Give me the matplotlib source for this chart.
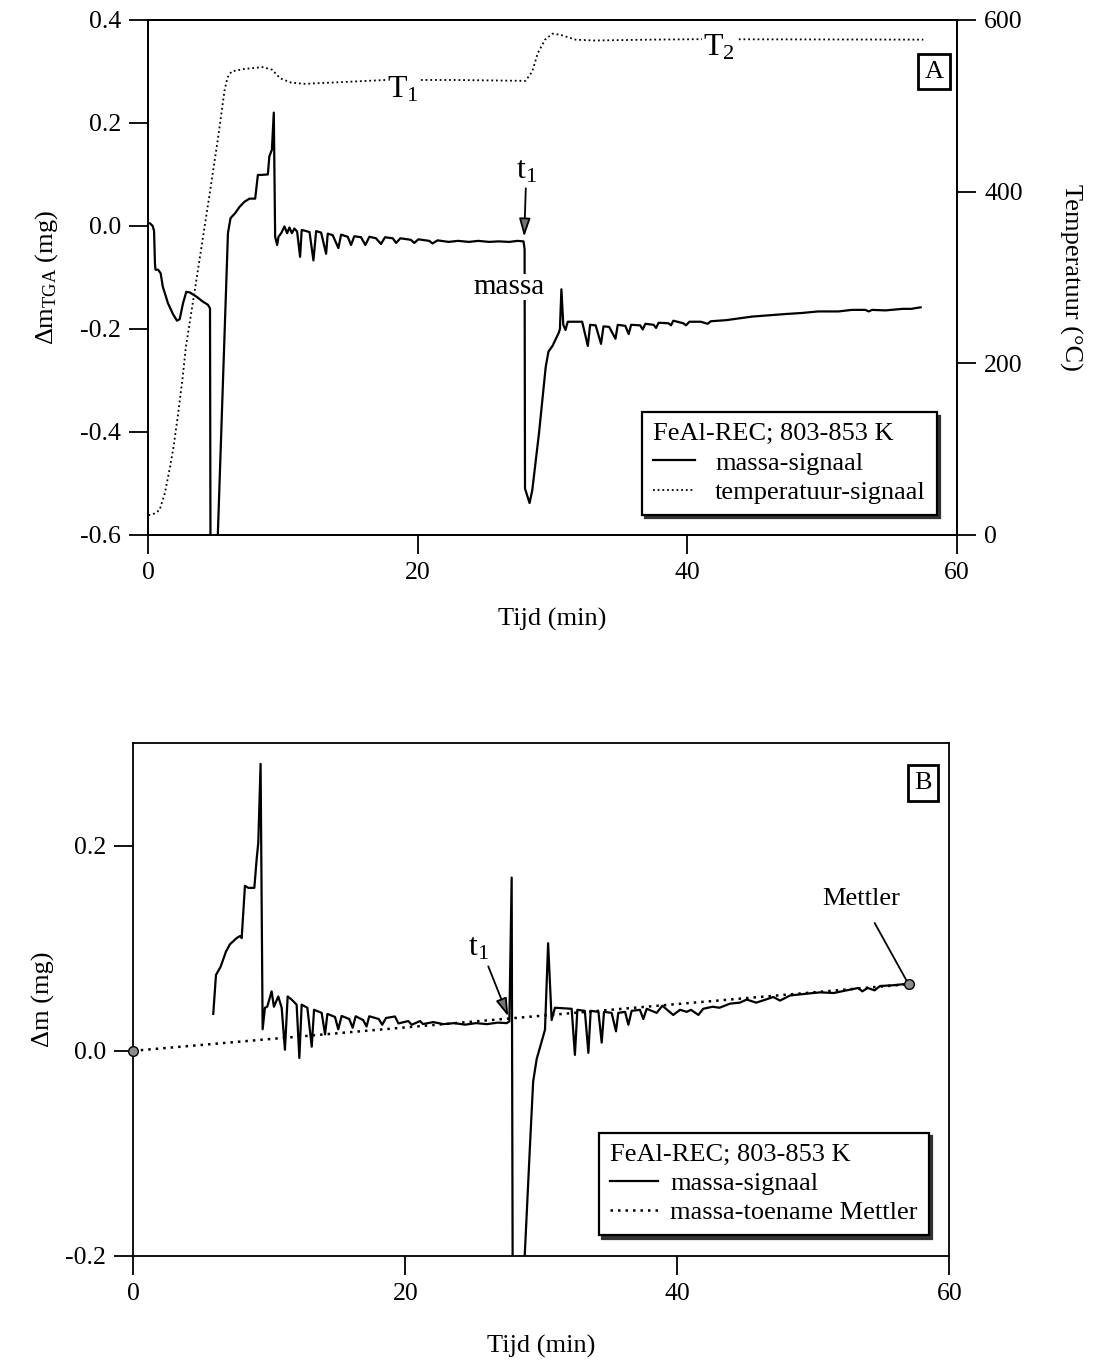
import matplotlib
matplotlib.use('Agg')
import matplotlib.pyplot as plt

plt.rcParams['font.family'] = 'serif'
plt.rcParams['font.serif'] = ['Liberation Serif', 'DejaVu Serif']
plt.rcParams['mathtext.fontset'] = 'custom'
plt.rcParams['mathtext.rm'] = 'Liberation Serif'
plt.rcParams['mathtext.it'] = 'Liberation Serif:italic'

# TGA mass signal (min, mg), panel A
tga_t = [0.15, 0.35, 0.45, 0.52, 0.56, 0.75, 0.94, 1.10, 1.48, 1.85, 2.15, 2.35, 2.60, 2.84,
         3.09, 3.58, 4.07, 4.44, 4.60, 4.64, 5.05, 5.93, 6.12, 6.47, 6.79, 7.16, 7.53, 7.95,
         8.15, 8.40, 8.89, 9.00, 9.19, 9.33, 9.43, 9.58, 9.68, 9.88, 10.12, 10.32, 10.49,
         10.67, 10.86, 11.06, 11.28, 11.40, 11.60, 11.98, 12.27, 12.47, 12.84, 13.21, 13.33,
         13.70, 14.12, 14.32, 14.81, 15.06, 15.30, 15.80, 16.12, 16.42, 16.91, 17.28, 17.58,
         18.15, 18.40, 18.72, 19.50, 19.75, 20.05, 20.86, 21.10, 21.48, 22.3, 23.0, 23.8,
         24.5, 25.3, 26.0, 26.8, 27.4, 27.85, 27.93, 27.96, 28.30, 28.50, 29.00, 29.50, 29.70,
         30.00, 30.47, 30.55, 30.66, 30.80, 30.96, 31.13, 32.20, 32.62, 32.79, 33.20, 33.60,
         33.78, 34.20, 34.67, 34.84, 35.40, 35.65, 35.83, 36.50, 36.69, 36.89, 37.50, 37.68,
         37.87, 38.60, 38.79, 38.96, 39.70, 39.90, 40.15, 41.00, 41.50, 41.75, 42.86, 44.80,
         47.30, 48.50, 49.70, 51.20, 52.20, 53.20, 53.45, 53.70, 54.70, 55.95, 56.60, 57.30]
tga_m = [0.005, 0.000, -0.010, -0.075, -0.085, -0.085, -0.092, -0.118, -0.150, -0.171,
         -0.184, -0.181, -0.150, -0.128, -0.129, -0.137, -0.147, -0.153, -0.160, -0.700,
         -0.700, -0.014, 0.015, 0.025, 0.037, 0.047, 0.053, 0.053, 0.099, 0.099, 0.100,
         0.135, 0.148, 0.220, -0.021, -0.037, -0.021, -0.014, -0.001, -0.014, -0.003, -0.014,
         -0.005, -0.011, -0.060, -0.008, -0.009, -0.012, -0.067, -0.010, -0.013, -0.054,
         -0.015, -0.018, -0.043, -0.017, -0.021, -0.037, -0.020, -0.022, -0.037, -0.021,
         -0.024, -0.035, -0.022, -0.024, -0.033, -0.024, -0.027, -0.033, -0.026, -0.029,
         -0.034, -0.028, -0.031, -0.029, -0.031, -0.029, -0.031, -0.030, -0.031, -0.029,
         -0.030, -0.045, -0.510, -0.538, -0.513, -0.402, -0.273, -0.244, -0.233, -0.207,
         -0.200, -0.123, -0.192, -0.202, -0.186, -0.186, -0.233, -0.192, -0.193, -0.229,
         -0.195, -0.196, -0.219, -0.192, -0.194, -0.210, -0.192, -0.193, -0.201, -0.190,
         -0.192, -0.198, -0.188, -0.189, -0.193, -0.184, -0.189, -0.193, -0.186, -0.186,
         -0.190, -0.185, -0.183, -0.176, -0.171, -0.169, -0.166, -0.166, -0.163, -0.163,
         -0.166, -0.163, -0.164, -0.161, -0.161, -0.158]

# oven temperature (min, degC), panel A
temp_t = [0.04, 0.47, 0.86, 1.25, 1.64, 1.90, 2.24, 2.55, 2.81, 3.20, 3.59, 4.60, 5.20, 5.68,
          5.90, 6.20, 7.20, 8.50, 9.20, 9.80, 10.60, 11.60, 15.0, 17.6, 22.8, 28.0, 28.5,
          28.9, 29.45, 30.0, 30.6, 31.7, 33.1, 37.3, 40.7, 57.5]
temp_T = [23, 25, 29, 48.6, 79.6, 103, 142, 180.6, 219, 258, 297, 400, 463, 518, 533, 540,
          543, 545, 542, 532, 527, 525.5, 528, 530, 530, 529, 540, 561, 577, 584, 582.6, 577,
          576, 577, 577.5, 577]

# corrected mass signal (min, mg), panel B
corr_t = [5.88, 6.08, 6.42, 6.82, 7.11, 7.60, 7.85, 7.97, 8.21, 8.46, 8.90, 9.07, 9.19, 9.36,
          9.51, 9.68, 9.85, 10.17, 10.34, 10.66, 10.91, 11.15, 11.35, 11.64, 12.01, 12.21,
          12.38, 12.80, 13.12, 13.29, 13.85, 14.10, 14.27, 14.83, 15.07, 15.32, 15.88, 16.13,
          16.35, 16.90, 17.15, 17.35, 18.05, 18.30, 18.58, 19.24, 19.49, 20.22, 20.47, 21.08,
          21.30, 22.06, 22.8, 23.6, 24.4, 25.2, 26.0, 26.8, 27.45, 27.65, 27.82, 27.90, 28.70,
          28.78, 29.15, 29.40, 29.66, 30.27, 30.50, 30.76, 31.00, 32.23, 32.47, 32.65, 33.20,
          33.46, 33.63, 34.20, 34.44, 34.61, 35.17, 35.49, 35.66, 36.16, 36.40, 36.64, 37.25,
          37.50, 37.75, 38.48, 38.90, 39.34, 39.70, 40.20, 40.70, 41.00, 41.55, 41.90, 42.60,
          43.10, 43.87, 44.60, 45.10, 45.80, 46.50, 47.06, 47.55, 48.30, 49.00, 50.00, 50.50,
          51.50, 53.30, 53.60, 54.00, 54.50, 54.90, 55.90, 57.00]
corr_m = [0.036, 0.074, 0.082, 0.097, 0.104, 0.110, 0.112, 0.110, 0.161, 0.159, 0.159, 0.187,
          0.203, 0.280, 0.021, 0.042, 0.043, 0.058, 0.043, 0.053, 0.042, 0.001, 0.053, 0.050,
          0.045, -0.007, 0.045, 0.042, 0.004, 0.040, 0.037, 0.016, 0.036, 0.033, 0.021, 0.034,
          0.031, 0.0225, 0.0337, 0.030, 0.0237, 0.0337, 0.031, 0.0254, 0.032, 0.0335, 0.0267,
          0.029, 0.0254, 0.029, 0.0261, 0.028, 0.026, 0.027, 0.0255, 0.027, 0.026, 0.0275,
          0.027, 0.0286, 0.169, -0.250, -0.250, -0.200, -0.097, -0.030, -0.008, 0.0205, 0.105,
          0.030, 0.042, 0.041, -0.004, 0.040, 0.039, -0.002, 0.039, 0.038, 0.008, 0.038, 0.037,
          0.019, 0.037, 0.038, 0.0254, 0.039, 0.040, 0.031, 0.041, 0.037, 0.044, 0.039, 0.035,
          0.040, 0.038, 0.040, 0.035, 0.041, 0.043, 0.042, 0.046, 0.047, 0.050, 0.047, 0.050,
          0.0525, 0.049, 0.054, 0.055, 0.0564, 0.057, 0.0564, 0.0613, 0.058, 0.0613, 0.059,
          0.0632, 0.064, 0.0655]

# Mettler balance: start and end mass
mettler_t = [0.0, 57.0]
mettler_m = [0.0, 0.065]

x_ticks = [0, 20, 40, 60]
fs = 19
tick_kw = dict(direction='out', length=13.5, width=1.3, labelsize=18.5, pad=6)
legend_kw = dict(alignment='left', fontsize=fs, title_fontsize=fs, loc='lower right',
                 borderaxespad=0, labelspacing=0.22, borderpad=0.42, fancybox=False,
                 framealpha=1, edgecolor='black',
                 shadow={'ox': 2.5, 'oy': -2.5, 'color': '0.2', 'alpha': 1})
arrow_kw = dict(arrowstyle='-|>,head_length=0.55,head_width=0.17', mutation_scale=20,
                lw=1.3, color='black', fc='0.45', shrinkA=0, shrinkB=0)

fig = plt.figure(figsize=(10.97, 13.63), dpi=100)

# ---------------- panel A ----------------
ax1 = fig.add_axes([0.1349, 0.6075, 0.7375, 0.3779])
ax2 = ax1.twinx()

l_mass, = ax1.plot(tga_t, tga_m, color='black', lw=1.6)
l_temp, = ax2.plot(temp_t, temp_T, color='black', lw=1.3, ls=(0, (1, 1.6)))

ax1.set_xlim(0, 60)
ax1.set_ylim(-0.6, 0.4)
ax2.set_ylim(0, 600)
ax1.set_xticks(x_ticks)
ax1.set_yticks([-0.6, -0.4, -0.2, 0.0, 0.2, 0.4])
ax1.set_yticklabels(['-0.6', '-0.4', '-0.2', '0.0', '0.2', '0.4'])
ax2.set_yticks([0, 200, 400, 600])
ax1.tick_params(**tick_kw)
ax2.tick_params(**tick_kw)
for ax in (ax1, ax2):
    for sp in ax.spines.values():
        sp.set_linewidth(1.3)

ax1.set_xlabel('Tijd (min)', fontsize=fs)
ax1.xaxis.set_label_coords(0.5, -0.142)
ax1.set_ylabel(r'Δm$_{\mathrm{TGA}}$ (mg)', fontsize=fs)
ax1.yaxis.set_label_coords(-0.109, 0.5)
ax2.set_ylabel('Temperatuur (°C)', fontsize=fs, rotation=270, va='center')
ax2.yaxis.set_label_coords(1.14, 0.5)

ax2.text(18.9, 519, r'$\mathrm{T}_1$', fontsize=23, ha='center', va='center',
         bbox=dict(facecolor='white', edgecolor='none', pad=1))
ax2.text(42.35, 568, r'$\mathrm{T}_2$', fontsize=23, ha='center', va='center',
         bbox=dict(facecolor='white', edgecolor='none', pad=1))
ax1.text(26.8, -0.118, 'massa', fontsize=21, ha='center', va='center',
         bbox=dict(facecolor='white', edgecolor='none', pad=0))
ax1.text(28.07, 0.106, r'$\mathrm{t}_1$', fontsize=23, ha='center', va='center')
ax1.annotate('', xy=(27.9, -0.021), xytext=(28.02, 0.073), arrowprops=arrow_kw)
ax1.text(0.9716, 0.8996, 'A', transform=ax1.transAxes, fontsize=fs, ha='center',
         va='center', bbox=dict(boxstyle='square,pad=0.25', facecolor='white',
                                edgecolor='black', lw=2))

ax2.legend(handles=[l_mass, l_temp], labels=['massa-signaal', 'temperatuur-signaal'],
           title='FeAl-REC; 803-853 K', bbox_to_anchor=(0.975, 0.039),
           handlelength=1.6, handletextpad=0.75, **legend_kw)
ax2.get_legend().get_frame().set_linewidth(1.6)

# ---------------- panel B ----------------
ax3 = fig.add_axes([0.1215, 0.0787, 0.7439, 0.3759])
l_corr, = ax3.plot(corr_t, corr_m, color='black', lw=1.6)
l_mett, = ax3.plot(mettler_t, mettler_m, color='black', lw=1.8, ls=(0, (1, 2)))
ax3.plot(mettler_t, mettler_m, ls='none', marker='o', ms=7, mfc='0.55', mec='black',
         mew=1, zorder=4, clip_on=False)

ax3.set_xlim(0, 60)
ax3.set_ylim(-0.2, 0.3)
ax3.set_xticks(x_ticks)
ax3.set_yticks([-0.2, 0.0, 0.2])
ax3.set_yticklabels(['-0.2', '0.0', '0.2'])
ax3.tick_params(**tick_kw)
for sp in ax3.spines.values():
    sp.set_linewidth(1.3)

ax3.set_xlabel('Tijd (min)', fontsize=fs)
ax3.xaxis.set_label_coords(0.5, -0.155)
ax3.set_ylabel('Δm (mg)', fontsize=fs)
ax3.yaxis.set_label_coords(-0.096, 0.5)

ax3.text(25.35, 0.1007, r'$\mathrm{t}_1$', fontsize=23, ha='center', va='center')
ax3.annotate('', xy=(27.57, 0.0335), xytext=(26.1, 0.0824), arrowprops=arrow_kw)
ax3.annotate('Mettler', xy=(mettler_t[1], mettler_m[1]), xytext=(53.55, 0.1477),
             fontsize=fs, ha='center', va='center',
             arrowprops=dict(arrowstyle='-', lw=1.3, color='black', shrinkA=8, shrinkB=2))
ax3.text(0.9678, 0.9225, 'B', transform=ax3.transAxes, fontsize=fs, ha='center',
         va='center', bbox=dict(boxstyle='square,pad=0.25', facecolor='white',
                                edgecolor='black', lw=2))

ax3.legend(handles=[l_corr, l_mett], labels=['massa-signaal', 'massa-toename Mettler'],
           title='FeAl-REC; 803-853 K', bbox_to_anchor=(0.975, 0.040),
           handlelength=1.85, handletextpad=0.45, **legend_kw)
ax3.get_legend().get_frame().set_linewidth(1.6)

fig.savefig('out.png', dpi=100)
